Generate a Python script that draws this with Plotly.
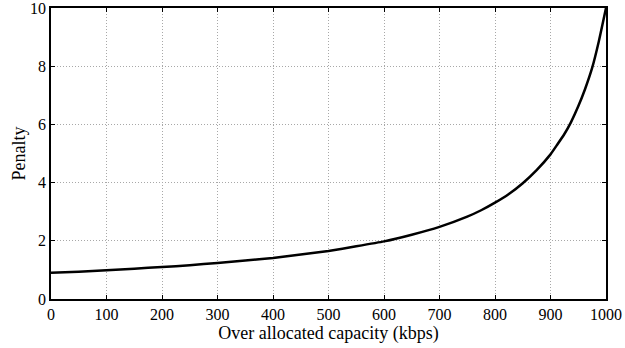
import plotly.graph_objects as go

# Penalty as a function of over-allocated capacity
capacity_kbps = [0, 50, 100, 150, 200, 250, 300, 350, 400, 450, 500, 550,
                 600, 650, 700, 750, 775, 800, 825, 850, 875, 900, 912, 925,
                 937, 950, 962, 975, 987, 1000]
penalty = [0.90, 0.94, 0.99, 1.04, 1.10, 1.16, 1.24, 1.32, 1.41, 1.53, 1.65, 1.81,
           1.98, 2.21, 2.48, 2.83, 3.05, 3.31, 3.61, 3.98, 4.43, 4.97, 5.30, 5.67,
           6.08, 6.62, 7.20, 7.94, 8.85, 10.0]

x_ticks = [0, 100, 200, 300, 400, 500, 600, 700, 800, 900, 1000]
y_ticks = [0, 2, 4, 6, 8, 10]

tick_font = dict(family="Liberation Serif", size=16, color="black")
title_font = dict(family="Liberation Serif", size=18, color="black")

fig = go.Figure()
fig.add_trace(go.Scatter(
    x=capacity_kbps, y=penalty, mode="lines",
    line=dict(color="black", width=2.5, shape="spline", smoothing=0.4),
    showlegend=False, cliponaxis=False,
))

axis_common = dict(
    showline=True, linecolor="black", linewidth=1.5, mirror="allticks",
    ticks="inside", ticklen=4, tickwidth=1, tickcolor="black",
    showgrid=True, gridcolor="#a8a8a8", griddash="1px,2px", gridwidth=1,
    zeroline=False, tickfont=tick_font, automargin=False,
    ticklabeloverflow="allow",
)

fig.update_xaxes(range=[0, 1000], tickvals=x_ticks, ticktext=[str(v) for v in x_ticks],
                 title=dict(text="Over allocated capacity (kbps)", font=title_font, standoff=4),
                 **axis_common)
fig.update_yaxes(range=[0, 10], tickvals=y_ticks, ticktext=[str(v) for v in y_ticks],
                 title=dict(text="Penalty", font=title_font, standoff=0),
                 **axis_common)

fig.update_layout(
    width=625, height=348,
    margin=dict(l=51, r=19, t=8, b=49),
    paper_bgcolor="white", plot_bgcolor="white",
    font=tick_font,
)

fig.write_html("out.html")
